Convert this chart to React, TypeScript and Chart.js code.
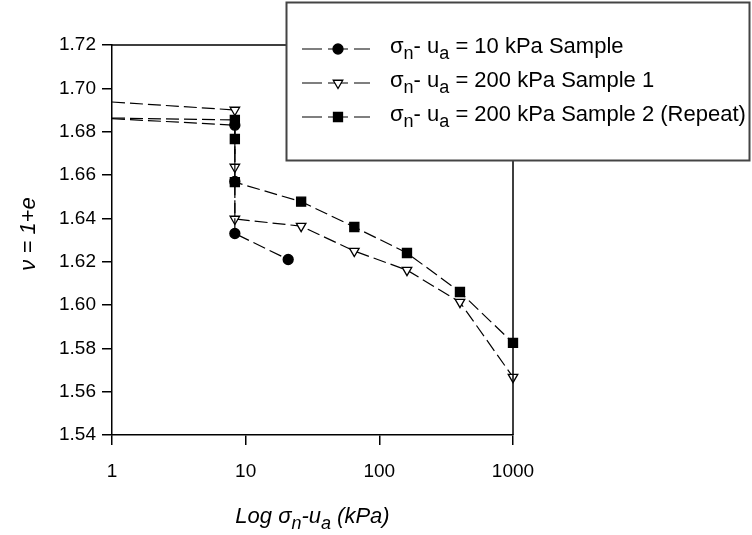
import React, { useEffect, useRef } from "react";
import { Chart, registerables } from "chart.js";

Chart.register(...registerables);

// ---- data ----
const xTickValues = [1, 10, 100, 1000];
const yTickValues = [1.54, 1.56, 1.58, 1.6, 1.62, 1.64, 1.66, 1.68, 1.7, 1.72];

const s1Label = "10 kPa Sample";
const s1X = [1, 8.3, 8.3, 8.3, 20.8];
const s1Y = [1.686, 1.683, 1.657, 1.633, 1.621];

const s2Label = "200 kPa Sample 1";
const s2X = [1, 8.3, 8.3, 8.3, 26, 65, 161, 401, 1000];
const s2Y = [1.6937, 1.69, 1.6637, 1.6397, 1.6364, 1.6249, 1.6161, 1.6013, 1.5667];

const s3Label = "200 kPa Sample 2 (Repeat)";
const s3X = [1, 8.3, 8.3, 8.3, 26, 65, 161, 401, 1000];
const s3Y = [1.6863, 1.6854, 1.6766, 1.6567, 1.6477, 1.636, 1.624, 1.606, 1.5825];

const FONT = "'Liberation Sans', Arial, Helvetica, sans-serif";

type Part = { t: string; sub?: boolean };

function drawRich(
  ctx: CanvasRenderingContext2D,
  parts: Part[],
  x: number,
  y: number,
  size: number,
  italic: boolean,
  align: "left" | "center"
) {
  const st = italic ? "italic " : "";
  const fontFor = (p: Part) => `${st}${p.sub ? Math.round(size * 0.8) : size}px ${FONT}`;
  let total = 0;
  for (const p of parts) {
    ctx.font = fontFor(p);
    total += ctx.measureText(p.t).width;
  }
  let cx = align === "center" ? x - total / 2 : x;
  ctx.textBaseline = "middle";
  ctx.textAlign = "left";
  for (const p of parts) {
    ctx.font = fontFor(p);
    ctx.fillText(p.t, cx, p.sub ? y + size * 0.3 : y);
    cx += ctx.measureText(p.t).width;
  }
}

function drawMarker(ctx: CanvasRenderingContext2D, style: string, x: number, y: number) {
  ctx.save();
  ctx.setLineDash([]);
  ctx.strokeStyle = "#000";
  ctx.lineWidth = 1.3;
  ctx.beginPath();
  if (style === "circle") {
    ctx.fillStyle = "#000";
    ctx.arc(x, y, 5, 0, Math.PI * 2);
    ctx.fill();
    ctx.stroke();
  } else if (style === "rect") {
    ctx.fillStyle = "#000";
    const h = 4.5;
    ctx.rect(x - h, y - h, 2 * h, 2 * h);
    ctx.fill();
    ctx.stroke();
  } else {
    ctx.fillStyle = "#fff";
    const r = 5.5;
    ctx.moveTo(x, y + r);
    ctx.lineTo(x - r * 0.866, y - r * 0.5);
    ctx.lineTo(x + r * 0.866, y - r * 0.5);
    ctx.closePath();
    ctx.fill();
    ctx.stroke();
  }
  ctx.restore();
}

const decorPlugin = {
  id: "decor",
  afterDraw(chart: any) {
    const ctx: CanvasRenderingContext2D = chart.ctx;
    const a = chart.chartArea;
    ctx.save();
    // frame top + right
    ctx.strokeStyle = "#000";
    ctx.lineWidth = 1.5;
    ctx.setLineDash([]);
    ctx.beginPath();
    ctx.moveTo(a.left, a.top);
    ctx.lineTo(a.right, a.top);
    ctx.lineTo(a.right, a.bottom);
    ctx.stroke();

    // legend box
    const bx = 286.5, by = 2.5, bw = 463, bh = 158;
    ctx.fillStyle = "#fff";
    ctx.fillRect(bx, by, bw, bh);
    ctx.strokeStyle = "#444";
    ctx.lineWidth = 2;
    ctx.strokeRect(bx, by, bw, bh);

    const entries = [
      { label: s1Label, style: "circle" },
      { label: s2Label, style: "triangle" },
      { label: s3Label, style: "rect" },
    ];
    const rows = [49, 83, 117];
    entries.forEach((e, i) => {
      const y = rows[i];
      ctx.save();
      ctx.strokeStyle = "#000";
      ctx.lineWidth = 1.2;
      ctx.setLineDash([20, 6]);
      ctx.beginPath();
      ctx.moveTo(302, y);
      ctx.lineTo(370, y);
      ctx.stroke();
      ctx.restore();
      drawMarker(ctx, e.style, 338, y);
      ctx.fillStyle = "#000";
      drawRich(
        ctx,
        [{ t: "σ" }, { t: "n", sub: true }, { t: "- u" }, { t: "a", sub: true }, { t: " = " + e.label }],
        390,
        y - 2,
        22,
        false,
        "left"
      );
    });

    // x axis title
    ctx.fillStyle = "#000";
    drawRich(
      ctx,
      [{ t: "Log σ" }, { t: "n", sub: true }, { t: "-u" }, { t: "a", sub: true }, { t: " (kPa)" }],
      (a.left + a.right) / 2,
      517,
      22,
      true,
      "center"
    );

    // y axis title
    ctx.save();
    ctx.translate(29, 234);
    ctx.rotate(-Math.PI / 2);
    ctx.font = `italic 22px ${FONT}`;
    ctx.textAlign = "center";
    ctx.textBaseline = "middle";
    ctx.fillText("ν = 1+e", 0, 0);
    ctx.restore();
    ctx.restore();
  },
};

export default function App() {
  const ref = useRef<HTMLCanvasElement>(null);
  useEffect(() => {
    document.body.style.margin = "0";
    const canvas = ref.current!;
    const mk = (xs: number[], ys: number[]) => xs.map((x, i) => ({ x, y: ys[i] }));
    const base = {
      showLine: true,
      borderColor: "#000",
      borderWidth: 1.2,
      borderDash: [13, 5],
      pointBorderColor: "#000",
      pointBorderWidth: 1.3,
      clip: false as any,
      fill: false,
      tension: 0,
    };
    const tickFont = { family: FONT, size: 19 };
    const chart = new Chart(canvas, {
      type: "scatter",
      data: {
        datasets: [
          {
            ...base,
            label: s1Label,
            data: mk(s1X, s1Y),
            pointStyle: "circle",
            pointRadius: s1X.map((_, i) => (i === 0 ? 0 : 5)),
            pointBackgroundColor: "#000",
          },
          {
            ...base,
            label: s2Label,
            data: mk(s2X, s2Y),
            pointStyle: "triangle",
            pointRotation: 180,
            pointRadius: s2X.map((_, i) => (i === 0 ? 0 : 5.5)),
            pointBackgroundColor: "#fff",
          },
          {
            ...base,
            label: s3Label,
            data: mk(s3X, s3Y),
            pointStyle: "rect",
            pointRadius: s3X.map((_, i) => (i === 0 ? 0 : 6.4)),
            pointBackgroundColor: "#000",
          },
        ] as any,
      },
      options: {
        responsive: false,
        animation: false,
        devicePixelRatio: 1,
        layout: { padding: { top: 45, right: 239, left: 0, bottom: 0 } },
        plugins: {
          legend: { display: false },
          tooltip: { enabled: false },
          title: { display: false },
        },
        scales: {
          x: {
            type: "logarithmic",
            min: 1,
            max: 1000,
            afterBuildTicks: (s: any) => {
              s.ticks = xTickValues.map((v) => ({ value: v }));
            },
            afterFit: (s: any) => {
              s.height = 100;
            },
            ticks: {
              callback: (v: any) => String(v),
              font: tickFont,
              color: "#000",
              padding: 15,
              maxRotation: 0,
              autoSkip: false,
            },
            grid: { drawOnChartArea: false, drawTicks: true, tickLength: 10, color: "#000", lineWidth: 1.5 },
            border: { display: true, color: "#000", width: 1.5 },
          },
          y: {
            type: "linear",
            min: 1.54,
            max: 1.72,
            afterBuildTicks: (s: any) => {
              s.ticks = yTickValues.map((v) => ({ value: v }));
            },
            afterFit: (s: any) => {
              s.width = 112;
            },
            ticks: {
              callback: (v: any) => Number(v).toFixed(2),
              font: tickFont,
              color: "#000",
              padding: 6,
              autoSkip: false,
            },
            grid: { drawOnChartArea: false, drawTicks: true, tickLength: 10, color: "#000", lineWidth: 1.5 },
            border: { display: true, color: "#000", width: 1.5 },
          },
        },
      } as any,
      plugins: [decorPlugin],
    });
    return () => chart.destroy();
  }, []);
  return (
    <div style={{ position: "fixed", left: 0, top: 0, width: 752, height: 535, background: "#fff" }}>
      <canvas ref={ref} width={752} height={535} style={{ width: 752, height: 535, display: "block" }} />
    </div>
  );
}
